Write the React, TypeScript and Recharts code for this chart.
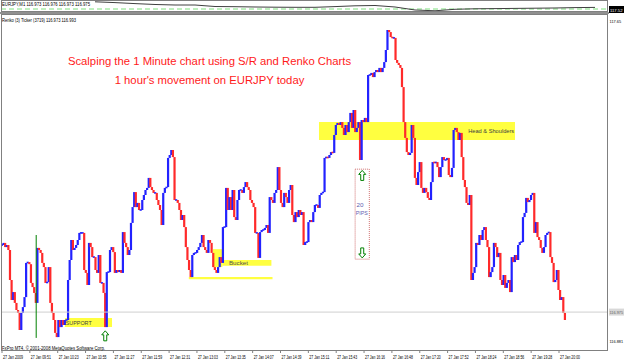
import { ComposedChart, Bar, XAxis, YAxis, ReferenceArea, ReferenceLine, ReferenceDot, LineChart, Line } from 'recharts';

// Renko brick closes, EURJPY, 27 Jan 2009
const RENKO_CLOSES = [
  117.112, 117.117, 117.107, 117.112, 117.1, 117.028, 116.98, 116.999, 116.973, 116.956,
  116.949, 116.908, 116.949, 116.963, 116.987, 117.069, 117.071, 117.066, 117.021, 117.011,
  116.997, 116.973, 117.105, 117.1, 117.093, 117.069, 117.059, 117.021, 117.023, 117.059,
  116.973, 116.949, 116.932, 116.901, 116.891, 116.932, 116.915, 116.932, 116.92, 116.932,
  116.932, 117.028, 117.076, 117.124, 117.1, 117.105, 117.112, 117.124, 117.141, 117.141,
  117.141, 117.052, 117.045, 117.016, 117.117, 117.107, 117.083, 117.083, 117.052, 117.045,
  117.088, 117.021, 117.021, 116.997, 116.915, 117.047, 117.047, 117.1, 117.107, 117.095,
  117.045, 117.052, 117.047, 117.052, 117.045, 117.143, 117.117, 117.107, 117.088, 117.1,
  117.165, 117.203, 117.239, 117.203, 117.213, 117.196, 117.196, 117.22, 117.232, 117.244,
  117.249, 117.273, 117.251, 117.244, 117.237, 117.237, 117.22, 117.208, 117.196, 117.16,
  117.237, 117.249, 117.251, 117.321, 117.328, 117.34, 117.323, 117.22, 117.22, 117.213,
  117.196, 117.172, 117.184, 117.155, 117.107, 117.076, 117.052, 117.035, 117.088, 117.093,
  117.093, 117.1, 117.107, 117.117, 117.136, 117.107, 117.1, 117.093, 117.124, 117.117,
  117.093, 117.059, 117.052, 117.045, 117.059, 117.083, 117.069, 117.155, 117.155, 117.249,
  117.196, 117.227, 117.196, 117.244, 117.179, 117.172, 117.22, 117.244, 117.244, 117.237,
  117.251, 117.263, 117.251, 117.244, 117.22, 117.213, 117.203, 117.141, 117.141, 117.081,
  117.143, 117.148, 117.148, 117.153, 117.16, 117.141, 117.227, 117.22, 117.213, 117.237,
  117.244, 117.299, 117.244, 117.213, 117.203, 117.237, 117.227, 117.213, 117.244,
  117.256, 117.184, 117.167, 117.191, 117.179, 117.196, 117.184, 117.191, 117.112, 117.119,
  117.119, 117.167, 117.172, 117.167, 117.191, 117.208, 117.208, 117.201, 117.232, 117.237,
  117.239, 117.321, 117.323, 117.321, 117.328, 117.335, 117.333, 117.376, 117.4, 117.405,
  117.4, 117.407, 117.393, 117.376, 117.4, 117.383, 117.407, 117.429, 117.393, 117.436,
  117.383, 117.393, 117.407, 117.316, 117.412, 117.407, 117.417, 117.407, 117.52, 117.52,
  117.525, 117.515, 117.527, 117.532, 117.527, 117.537, 117.527, 117.537, 117.551, 117.58,
  117.628, 117.623, 117.611, 117.609, 117.609, 117.556, 117.549, 117.544, 117.537, 117.491,
  117.407, 117.369, 117.335, 117.328, 117.333, 117.4, 117.369, 117.273, 117.256, 117.287,
  117.311, 117.249, 117.237, 117.249, 117.239, 117.225, 117.22, 117.263, 117.311,
  117.309, 117.311, 117.299, 117.275, 117.299, 117.323, 117.316, 117.316, 117.321, 117.28,
  117.275, 117.297, 117.388, 117.393, 117.383, 117.364, 117.381, 117.323, 117.268, 117.251,
  117.213, 117.208, 117.232, 117.028, 117.045, 117.059, 117.117, 117.112, 117.136, 117.124,
  117.148, 117.155, 117.124, 117.107, 117.035, 117.047, 117.059, 117.117, 117.107, 117.083,
  117.093, 117.028, 117.016, 117.04, 117.009, 117.021, 117.028, 116.999, 117.083, 117.071,
  117.088, 117.076, 117.112, 117.119, 117.119, 117.179, 117.189, 117.225, 117.215, 117.22,
  117.232, 117.237, 117.141, 117.167, 117.131, 117.124, 117.105, 117.093, 117.107, 117.136,
  117.141, 117.143, 117.083, 117.069, 117.023, 117.028, 117.052, 117.004, 116.98, 116.987,
  116.949, 116.932,
];

const TIME_LABELS = [
  '27 Jan 2009', '27 Jan 09:51', '27 Jan 10:23', '27 Jan 10:55', '27 Jan 11:27', '27 Jan 11:59',
  '27 Jan 12:31', '27 Jan 13:03', '27 Jan 13:35', '27 Jan 14:07', '27 Jan 14:39', '27 Jan 15:11',
  '27 Jan 15:43', '27 Jan 16:16', '27 Jan 16:48', '27 Jan 17:20', '27 Jan 17:52', '27 Jan 18:24',
  '27 Jan 18:56', '27 Jan 19:28', '27 Jan 20:00',
];

const PRICE_TICKS = [116.881, 117.65];
const PRICE_LINE = 116.951;
const PRICE_LINE_LABEL = '116.975';

// upper window: EURJPY,M1
const M1_CLOSES = [
  117.592, 117.534, 117.461, 117.396, 117.359, 117.359, 117.25, 117.236, 117.214, 117.199,
  117.192, 117.192, 117.243, 117.301, 117.323, 117.214, 116.996, 116.938, 117.047, 117.083,
  117.097, 117.112, 117.127, 117.141, 117.17, 117.185,
];
const M1_SIGNAL = 117.068;

const FONT = '"Liberation Sans", Arial, sans-serif';
const W = 625;
const H = 361;

const bricks = RENKO_CLOSES.map((close, i) => {
  const open = i === 0 ? close : RENKO_CLOSES[i - 1];
  return { i, range: [Math.min(open, close), Math.max(open, close)], up: close >= open };
});

const m1 = M1_CLOSES.map((v, k) => ({ k, v }));

const lastIdx = RENKO_CLOSES.length - 1;
const pxPerBrick = 563 / lastIdx;
const timeStep = 27.85 / pxPerBrick;

const Brick = (props: any) => {
  const { x, y, width, height, payload } = props;
  const top = height < 0 ? y + height : y;
  const h = Math.abs(height);
  const hh = Math.max(h, 1.6);
  const cx = x + width / 2;
  return (
    <rect
      x={cx - 1.1}
      y={top - (hh - h) / 2}
      width={2.2}
      height={hh}
      fill={payload.up ? '#2222ff' : '#ff2a2a'}
    />
  );
};

// tiny MT4-style text, squeezed to the width seen in the screenshot
const Tiny = ({ x, y, len, size = 5, fill = '#000', children }: any) => (
  <text x={x} y={y} fontSize={size} fontFamily={FONT} fill={fill} textLength={len} lengthAdjust="spacingAndGlyphs">
    {children}
  </text>
);

const TimeTick = ({ x, y, payload }: any) => {
  const k = Math.round(payload.value / timeStep);
  return <Tiny x={x + 1} y={y + 4} len={20}>{TIME_LABELS[k]}</Tiny>;
};

// right axis sits at x = 608; the label starts just past it
const PriceTick = ({ y, payload }: any) => (
  <Tiny x={609.5} y={y + 2} size={4.3} len={String(payload.value).length * 1.95}>{payload.value}</Tiny>
);

const Arrow = ({ cx, cy, down }: any) => {
  const s = down ? -1 : 1;
  const pts = [
    [0, -5], [3.5, -1], [1.5, -1], [1.5, 5], [-1.5, 5], [-1.5, -1], [-3.5, -1],
  ].map(([px, py]) => `${cx + px},${cy + py * s}`).join(' ');
  return <polygon points={pts} fill="#fff" stroke="#008000" strokeWidth={1} />;
};

const Note = ({ cx, cy, text, color, len }: any) => (
  <text x={cx} y={cy + 2} fontSize={6} fontFamily={FONT} fill={color} textLength={len} lengthAdjust="spacingAndGlyphs">
    {text}
  </text>
);

const PriceLineLabel = ({ viewBox }: any) => (
  <g>
    <rect x={viewBox.x + viewBox.width + 1} y={viewBox.y - 3.5} width={15} height={7} fill="#d8d8d8" />
    <Tiny x={viewBox.x + viewBox.width + 1.5} y={viewBox.y + 2} size={4.3} len={13.5} fill="#606060">{PRICE_LINE_LABEL}</Tiny>
  </g>
);

export default function App() {
  return (
    <div style={{ position: 'absolute', left: 0, top: 0, width: W, height: H, background: '#fff', overflow: 'hidden' }}>
      {/* upper M1 window */}
      <div style={{ position: 'absolute', left: 0, top: 0 }}>
        <LineChart width={W} height={13} data={m1} margin={{ top: 1, right: 17, bottom: 1, left: 1 }}>
          <XAxis dataKey="k" type="number" domain={[-4.7, 25.65]} hide allowDataOverflow />
          <YAxis domain={[116.85, 117.65]} hide allowDataOverflow />
          <ReferenceLine y={M1_SIGNAL} stroke="#7ee07e" strokeDasharray="5 3" />
          <Line dataKey="v" stroke="#404040" strokeWidth={1} dot={false} isAnimationActive={false} />
        </LineChart>
      </div>
      <div style={{ position: 'absolute', left: 1, top: 0, width: 607, height: 12, border: '1px solid #808080', boxSizing: 'border-box' }} />
      <div style={{ position: 'absolute', left: 609, top: 6, width: 15, height: 7, background: '#000' }} />
      <div style={{ position: 'absolute', left: 0, top: 12, width: 609, height: 2, background: '#909090' }} />

      {/* main Renko window */}
      <div style={{ position: 'absolute', left: 0, top: 0 }}>
        <ComposedChart width={W} height={H} data={bricks} margin={{ top: 14, right: 0, bottom: 0, left: 1 }}>
          <XAxis
            dataKey="i"
            type="number"
            domain={[-1 / pxPerBrick, 606 / pxPerBrick]}
            ticks={TIME_LABELS.map((_, k) => k * timeStep)}
            interval={0}
            tick={<TimeTick />}
            tickLine={{ stroke: '#808080' }}
            tickSize={2}
            axisLine={false}
            height={10}
            allowDataOverflow
          />
          <YAxis
            orientation="right"
            width={17}
            domain={[116.8576, 117.6664]}
            ticks={PRICE_TICKS}
            interval={0}
            tick={<PriceTick />}
            tickLine={false}
            axisLine={false}
            allowDataOverflow
          />
          <ReferenceLine y={PRICE_LINE} stroke="#cfcfcf" label={<PriceLineLabel />} />

          <ReferenceArea x1={196.5} x2={318} y1={117.364} y2={117.407} fill="#ffff40" fillOpacity={1} stroke="none" />
          <ReferenceArea x1={39} x2={68.2} y1={116.915} y2={116.937} fill="#ffff40" fillOpacity={1} stroke="none" />
          <ReferenceArea x1={130.8} x2={136.6} y1={117.059} y2={117.102} fill="#ffff40" fillOpacity={1} stroke="none" />
          <ReferenceArea x1={136.6} x2={167} y1={117.062} y2={117.076} fill="#ffff40" fillOpacity={1} stroke="none" />
          <ReferenceArea x1={115.8} x2={167.7} y1={117.03} y2={117.035} fill="#ffff40" fillOpacity={1} stroke="none" />
          <ReferenceArea x1={218.9} x2={227.7} y1={117.078} y2={117.294} fill="none" stroke="#d07070" strokeDasharray="1 1" />
          <ReferenceLine segment={[{ x: 21.2, y: 116.889 }, { x: 21.2, y: 117.136 }]} stroke="#008000" />

          <Bar dataKey="range" barSize={2} shape={<Brick />} isAnimationActive={false} />

          <ReferenceDot x={289} y={117.386} r={0} shape={(p: any) => <Note {...p} text="Head & Shoulders" color="#404040" len={46} />} />
          <ReferenceDot x={140.7} y={117.068} r={0} shape={(p: any) => <Note {...p} text="Bucket" color="#505050" len={19} />} />
          <ReferenceDot x={39.5} y={116.925} r={0} shape={(p: any) => <Note {...p} text="SUPPORT" color="#404040" len={26} />} />
          <ReferenceDot x={219.8} y={117.209} r={0} shape={(p: any) => <Note {...p} text="20" color="#6060b0" len={7} />} />
          <ReferenceDot x={219.3} y={117.19} r={0} shape={(p: any) => <Note {...p} text="PIPS" color="#6060b0" len={12} />} />
          <ReferenceDot x={223.3} y={117.279} r={0} shape={(p: any) => <Arrow {...p} />} />
          <ReferenceDot x={223.3} y={117.093} r={0} shape={(p: any) => <Arrow {...p} down />} />
          <ReferenceDot x={64} y={116.894} r={0} shape={(p: any) => <Arrow {...p} />} />
        </ComposedChart>
      </div>
      <div style={{ position: 'absolute', left: 1, top: 14, width: 607, height: 337, border: '1px solid #808080', boxSizing: 'border-box', pointerEvents: 'none' }} />

      {/* window captions */}
      <svg width={W} height={H} style={{ position: 'absolute', left: 0, top: 0, pointerEvents: 'none' }}>
        <Tiny x={2} y={6} len={88}>EURJPY,M1 116.973 116.976 116.973 116.975</Tiny>
        <Tiny x={610} y={11.5} size={4.3} len={12.5} fill="#fff">117.52</Tiny>
        <Tiny x={2} y={22} len={74}>Renko (3) Ticker (3719) 116.973 116.993</Tiny>
        <Tiny x={2} y={350} len={103}>FxPro MT4, © 2001-2008 MetaQuotes Software Corp.</Tiny>
      </svg>
      <div style={{ position: 'absolute', left: 0, top: 52, width: 419, textAlign: 'center', fontSize: 11.3, fontFamily: FONT, color: '#ff1a1a', lineHeight: '19px' }}>
        Scalping the 1 Minute chart using S/R and Renko Charts
        <br />
        1 hour's movement on EURJPY today
      </div>
    </div>
  );
}
